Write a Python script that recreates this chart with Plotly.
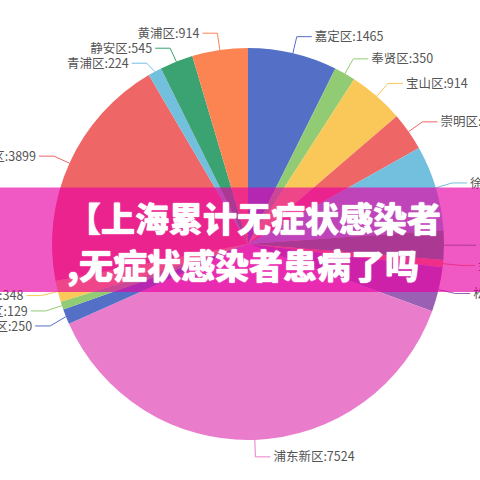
import plotly.graph_objects as go
import numpy as np

# ---- data ----
districts = ["嘉定区", "奉贤区", "宝山区", "崇明区", "徐汇区", "普陀区", "金山区", "松江区",
             "浦东新区", "虹口区", "长宁区", "杨浦区", "闵行区", "青浦区", "静安区", "黄浦区"]
cases = [1465, 350, 914, 630, 1400, 480, 120, 730,
         7524, 250, 129, 348, 3899, 224, 545, 914]
palette = ["#5470c6", "#91cc75", "#fac858", "#ee6666", "#73c0de",
           "#3ba272", "#fc8452", "#9a60b4", "#ea7ccc"]
title_lines = ["【上海累计无症状感染者", ",无症状感染者患病了吗"]

# ---- layout constants (pixels) ----
W = H = 480
cx, cy, R = 248, 244, 196
LEN1, LEN2, GAP = 17, 15, 3
FONT = "Noto Sans CJK SC"

colors = [palette[i % len(palette)] for i in range(len(cases))]

total = float(sum(cases))
cum = np.concatenate([[0], np.cumsum(cases)])
mid = (cum[:-1] + cum[1:]) / 2 / total * 2 * np.pi  # clockwise from 12 o'clock

x0 = cx + R * np.sin(mid)
y0 = cy - R * np.cos(mid)
x1 = cx + (R + LEN1) * np.sin(mid)
y1 = cy - (R + LEN1) * np.cos(mid)
right = np.sin(mid) >= 0

# simple label overlap avoidance on each side
y1 = y1.copy()
for side in (True, False):
    idx = [i for i in range(len(cases)) if right[i] == side]
    idx.sort(key=lambda i: y1[i])
    last = -1e9
    for i in idx:
        if y1[i] < last + 15:
            y1[i] = last + 15
        last = y1[i]

x2 = np.where(right, x1 + LEN2, x1 - LEN2)

fig = go.Figure()

# leader lines (under pie)
for i in range(len(cases)):
    fig.add_trace(go.Scatter(
        x=[x0[i], x1[i], x2[i]], y=[y0[i], y1[i], y1[i]],
        mode="lines", line=dict(color=colors[i], width=1),
        hoverinfo="skip", showlegend=False))

# labels
for side, pos in ((True, "middle right"), (False, "middle left")):
    idx = [i for i in range(len(cases)) if right[i] == side]
    fig.add_trace(go.Scatter(
        x=[x2[i] + (GAP if side else -GAP) for i in idx],
        y=[y1[i] + 1.5 for i in idx],
        text=[f"{districts[i]}:{cases[i]}" for i in idx],
        mode="text", textposition=pos,
        textfont=dict(family=FONT, size=12.5, color="#555555"),
        hoverinfo="skip", showlegend=False, cliponaxis=False))

fig.add_trace(go.Pie(
    values=cases, labels=districts,
    marker=dict(colors=colors, line=dict(width=0)),
    sort=False, direction="clockwise", rotation=0,
    textinfo="none", hoverinfo="label+value",
    domain=dict(x=[(cx - R) / W, (cx + R) / W], y=[(H - cy - R) / H, (H - cy + R) / H]),
    showlegend=False))

title_font = dict(family=FONT, size=34, color="white", weight=900,
                  shadow="0 0 1px #ffffff, 0 0 1px #ffffff")
fig.update_layout(
    width=W, height=H, autosize=False,
    margin=dict(l=0, r=0, t=0, b=0),
    paper_bgcolor="white", plot_bgcolor="white",
    xaxis=dict(range=[0, W], visible=False, fixedrange=True),
    yaxis=dict(range=[H, 0], visible=False, fixedrange=True),
    shapes=[dict(type="rect", xref="paper", yref="paper", x0=0, x1=1,
                 y0=1 - 292 / H, y1=1 - 187.5 / H,
                 fillcolor="rgba(232,0,165,0.65)", line=dict(width=0), layer="above")],
    annotations=[
        dict(text=title_lines[0], x=65 / W, y=1 - 218 / H, xref="paper", yref="paper",
             xanchor="left", yanchor="middle", showarrow=False, font=title_font),
        dict(text=title_lines[1], x=65 / W, y=1 - 264 / H, xref="paper", yref="paper",
             xanchor="left", yanchor="middle", showarrow=False, font=title_font),
    ],
)

fig.write_html("out.html", config={"displayModeBar": False},
               post_script="document.body.style.margin='0';document.body.style.overflow='hidden';")
